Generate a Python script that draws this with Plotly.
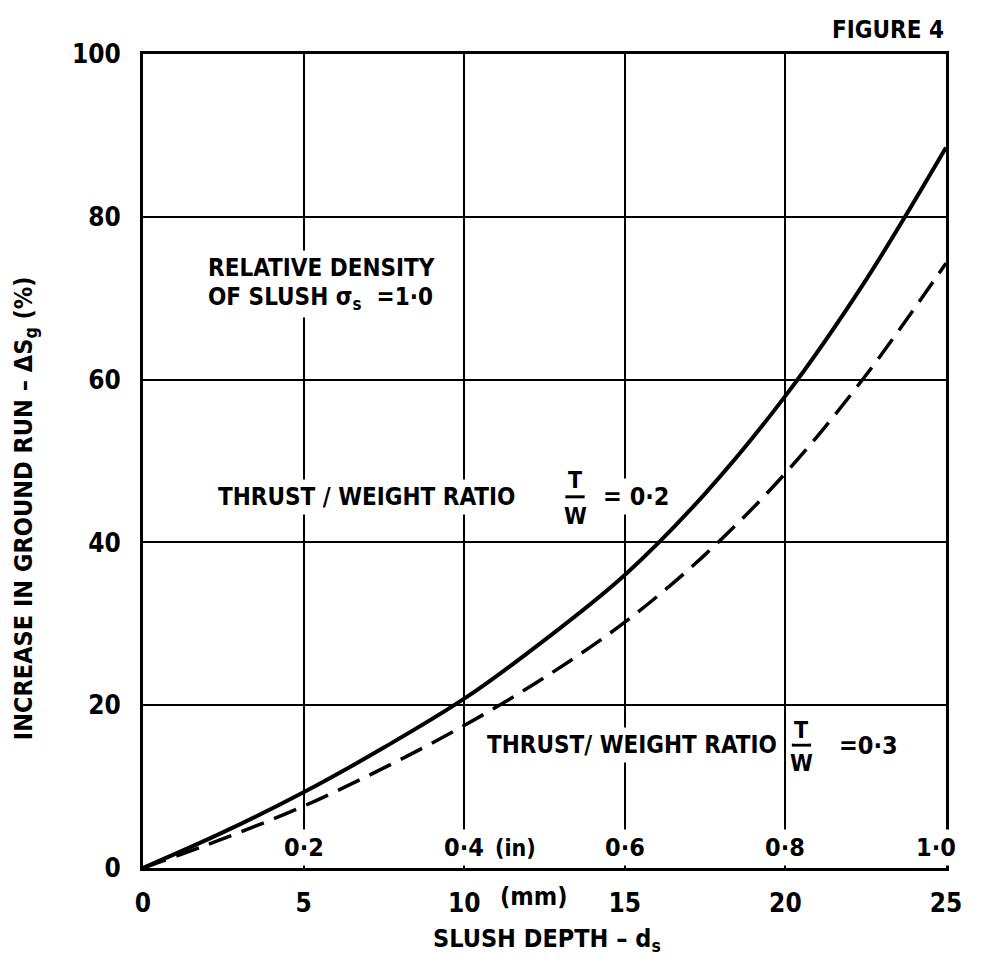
import plotly.graph_objects as go

# Data (slush depth in mm, increase in ground run in %)
depth_mm = [0, 2.5, 5, 7.5, 10, 12.5, 15, 17.5, 20, 22.5, 25]
run_tw02 = [0, 4.4, 9.3, 14.8, 20.8, 28.0, 36.0, 46.0, 58.0, 72.2, 88.5]   # T/W = 0.2 (solid)
run_tw03 = [0, 3.6, 7.6, 12.3, 17.5, 23.4, 30.2, 38.5, 48.5, 60.5, 74.3]   # T/W = 0.3 (dashed)

x_ticks = [0, 5, 10, 15, 20, 25]
y_ticks = [0, 20, 40, 60, 80, 100]
inch_labels = ["0·2", "0·4", "0·6", "0·8", "1·0"]
inch_vals = [0.2, 0.4, 0.6, 0.8, 1.0]
MM_PER_IN = 25.0  # chart's own scale: 1.0 in placed at 25 mm

FONT = "DejaVu Sans Condensed, DejaVu Sans, sans-serif"
BLACK = "#000000"

fig = go.Figure()
fig.add_trace(go.Scatter(x=depth_mm, y=run_tw02, mode="lines", line=dict(color=BLACK, width=4, shape="spline", smoothing=1.0),
                         showlegend=False, hoverinfo="skip"))
fig.add_trace(go.Scatter(x=depth_mm, y=run_tw03, mode="lines", line=dict(color=BLACK, width=3.5, dash="24px,11px", shape="spline", smoothing=1.0),
                         showlegend=False, hoverinfo="skip"))

def txt(x, y, s, size=22, xanchor="left", xref="x", yref="y", bg="white", pad=3, **kw):
    fig.add_annotation(x=x, y=y, xref=xref, yref=yref, text=s, showarrow=False, xanchor=xanchor, yanchor="middle",
                       font=dict(family=FONT, size=size, color=BLACK, weight=700), bgcolor=bg, borderpad=pad, **kw)

# inch scale labels inside the plot
for v, lab in zip(inch_vals, inch_labels):
    xv = v * MM_PER_IN
    if v == 1.0:
        xv = 24.7
    txt(xv, 2.5, lab, size=25, xanchor="center")
txt(11.6, 2.5, "(in)", size=23, xanchor="center")
txt(12.15 / 25, -0.0355, "(mm)", size=25, xanchor="center", xref="paper", yref="paper", bg="rgba(0,0,0,0)")

# descriptive labels
txt(1.9, 73.7, "RELATIVE DENSITY", size=24)
txt(1.9, 70.0, "OF SLUSH σ<sub>s</sub>  =1·0", size=24)
txt(2.2, 45.6, "THRUST / WEIGHT RATIO", size=24)
txt(13.45, 47.7, "T", size=23, xanchor="center", pad=0)
txt(13.45, 43.3, "W", size=23, xanchor="center", pad=0)
txt(14.2, 45.6, "= 0·2", size=25)
txt(10.6, 15.1, "THRUST/ WEIGHT RATIO", size=24)
txt(20.5, 17.0, "T", size=23, xanchor="center", pad=0)
txt(20.5, 12.9, "W", size=23, xanchor="center", pad=0)
txt(21.55, 15.1, "=0·3", size=25)

# fraction bars
for cx, cy in [(13.45, 45.6), (20.5, 15.1)]:
    fig.add_shape(type="line", x0=cx - 0.3, x1=cx + 0.3, y0=cy, y1=cy, xref="x", yref="y",
                  line=dict(color=BLACK, width=3))

# titles
txt(-0.147, 0.442, "INCREASE IN GROUND RUN – ΔS<sub>g</sub> (%)", size=25, xanchor="center",
    xref="paper", yref="paper", bg="rgba(0,0,0,0)", textangle=-90)
txt(0.503, -0.088, "SLUSH DEPTH – d<sub>s</sub>", size=25, xanchor="center", xref="paper", yref="paper",
    bg="rgba(0,0,0,0)")
fig.add_annotation(x=1.0, y=1.029, xref="paper", yref="paper", text="FIGURE 4", showarrow=False,
                   xanchor="right", yanchor="middle", font=dict(family=FONT, size=24, color=BLACK, weight=700))

axis_common = dict(showline=True, linecolor=BLACK, linewidth=3, mirror=True, showgrid=True, gridcolor=BLACK,
                   gridwidth=2, zeroline=False, ticks="",
                   tickfont=dict(family=FONT, size=26, color=BLACK, weight=700))
fig.update_xaxes(range=[0, 25], tickvals=x_ticks, ticktext=[str(v) for v in x_ticks], ticklabelstandoff=10,
                 **axis_common)
fig.update_yaxes(range=[0, 100], tickvals=y_ticks, ticktext=[str(v) for v in y_ticks], ticklabelstandoff=14,
                 **axis_common)

fig.update_layout(width=966, height=952, margin=dict(l=135, r=20, t=46, b=92), plot_bgcolor="white",
                  paper_bgcolor="white", showlegend=False)

fig.write_html("out.html")
